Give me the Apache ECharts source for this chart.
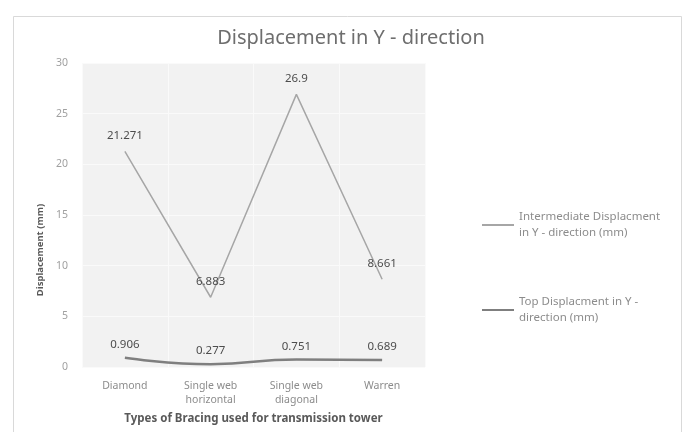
<!DOCTYPE html>
<html>
<head>
<meta charset="utf-8">
<script src="https://cdn.jsdelivr.net/npm/echarts@6/dist/echarts.min.js"></script>
<style>html,body{margin:0;padding:0;background:#fff}#c{width:683px;height:432px}</style>
</head>
<body>
<div id="c"></div>
<script>
const categories = ['Diamond', 'Single web\nhorizontal', 'Single web\ndiagonal', 'Warren'];
const intermediateDisp = [21.271, 6.883, 26.9, 8.661];
const topDisp = [0.906, 0.277, 0.751, 0.689];
const yTicks = [0, 5, 10, 15, 20, 25, 30];
const seriesNames = ['Intermediate Displacment in Y - direction (mm)', 'Top Displacment in Y - direction (mm)'];
const legendText = {
  'Intermediate Displacment in Y - direction (mm)': 'Intermediate Displacment\nin Y - direction (mm)',
  'Top Displacment in Y - direction (mm)': 'Top Displacment in Y -\ndirection (mm)'
};

const chart = echarts.init(document.getElementById('c'));
const sans = 'Noto Sans';
chart.setOption({
  animation: false,
  backgroundColor: '#ffffff',
  graphic: [{
    type: 'rect', left: 11, top: 14, shape: { width: 668, height: 430 },
    style: { fill: 'none', stroke: '#d9d9d9', lineWidth: 1 }, silent: true
  }],
  title: {
    text: 'Displacement in Y - direction',
    left: 346, top: 23,
    textAlign: 'center',
    textStyle: { fontFamily: sans, fontWeight: 'normal', fontSize: 20, color: '#6e6e6e' }
  },
  grid: {
    left: 82, right: 258, top: 63, bottom: 65,
    show: true, backgroundColor: '#f2f2f2', borderWidth: 0
  },
  legend: {
    orient: 'vertical',
    left: 476, top: 204,
    itemGap: 53,
    itemWidth: 32,
    itemHeight: 8,
    itemStyle: { opacity: 0 },
    formatter: n => legendText[n],
    textStyle: { fontFamily: sans, fontSize: 11.5, color: '#8c8c8c', lineHeight: 16 },
    data: seriesNames
  },
  xAxis: {
    type: 'category',
    data: categories,
    name: 'Types of Bracing used for transmission tower',
    nameLocation: 'middle',
    nameGap: 46,
    nameTextStyle: { fontFamily: sans, fontWeight: 'bold', fontSize: 11.5, color: '#595959' },
    axisLine: { show: false },
    axisTick: { show: false },
    splitLine: { show: true, lineStyle: { color: '#fafafa' } },
    axisLabel: { fontFamily: sans, fontSize: 10.5, color: '#8c8c8c', lineHeight: 14, margin: 12 }
  },
  yAxis: {
    type: 'value',
    min: yTicks[0], max: yTicks[yTicks.length - 1], interval: 5,
    name: 'Displacement (mm)',
    nameLocation: 'middle',
    nameGap: 30,
    nameTextStyle: { fontFamily: sans, fontWeight: 'bold', fontSize: 9.5, color: '#595959', padding: [0, 70, 0, 0] },
    axisLine: { show: false },
    axisTick: { show: false },
    splitLine: { lineStyle: { color: '#fafafa' } },
    axisLabel: { fontFamily: sans, fontSize: 10.5, color: '#a0a0a0', margin: 14 }
  },
  series: [
    {
      name: seriesNames[0], type: 'line', data: intermediateDisp,
      symbol: 'circle', symbolSize: 0, showSymbol: true,
      lineStyle: { color: '#a6a6a6', width: 1.5 },
      itemStyle: { color: '#a6a6a6' },
      label: { show: true, position: 'top', distance: 10, fontFamily: sans, fontSize: 11.5, color: '#4d4d4d', formatter: p => String(p.value) }
    },
    {
      name: seriesNames[1], type: 'line', data: topDisp, smooth: true,
      symbol: 'circle', symbolSize: 0, showSymbol: true,
      lineStyle: { color: '#7f7f7f', width: 2.5 },
      itemStyle: { color: '#7f7f7f' },
      label: { show: true, position: 'top', distance: 7, fontFamily: sans, fontSize: 11.5, color: '#4d4d4d', formatter: p => String(p.value) }
    }
  ]
});
</script>
</body>
</html>
